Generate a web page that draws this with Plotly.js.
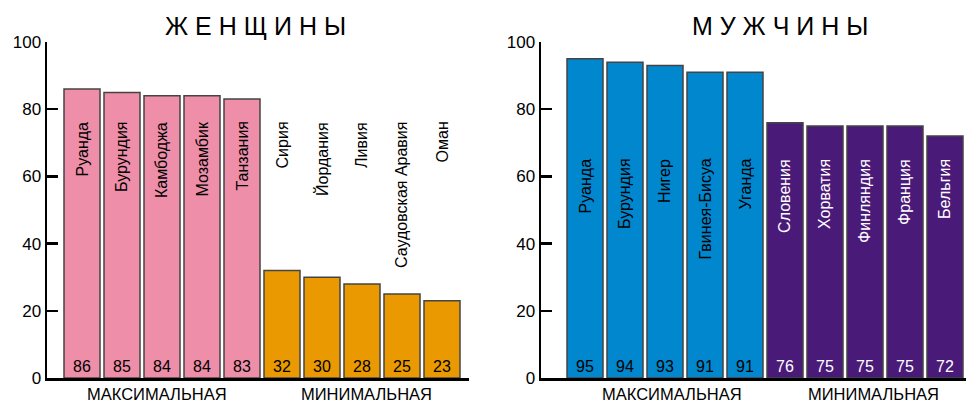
<!DOCTYPE html>
<html>
<head>
<meta charset="utf-8">
<script src="https://cdn.plot.ly/plotly-3.0.1.min.js"></script>
<style>html,body{margin:0;padding:0;background:#fff;}#chart{width:966px;height:404px;}</style>
</head>
<body>
<div id="chart"></div>
<script>
// ---- data ----
const womenCountries = ["Руанда","Бурундия","Камбоджа","Мозамбик","Танзания","Сирия","Йордания","Ливия","Саудовская Аравия","Оман"];
const womenValues = [86,85,84,84,83,32,30,28,25,23];
const womenGroup = ["max","max","max","max","max","min","min","min","min","min"];
const menCountries = ["Руанда","Бурундия","Нигер","Гвинея-Бисуа","Уганда","Словения","Хорватия","Финляндия","Франция","Бельгия"];
const menValues = [95,94,93,91,91,76,75,75,75,72];
const menGroup = ["max","max","max","max","max","min","min","min","min","min"];
const groupLabels = {max: "МАКСИМАЛЬНАЯ", min: "МИНИМАЛЬНАЯ"};
const titles = ["Ж Е Н Щ И Н Ы", "М У Ж Ч И Н Ы"];
const yTicks = [0,20,40,60,80,100];

// ---- styles ----
const FONT = "Liberation Sans, Arial, sans-serif";
const womenColors = {max: "#EE8EA9", min: "#EA9A00"};
const menColors = {max: "#0087CE", min: "#4A1A79"};
const womenTextColors = {max: "#000", min: "#000"};
const menTextColors = {max: "#000", min: "#fff"};

const idx = womenCountries.map((_, i) => i);

function barTrace(values, groups, colors, textColors, xa, ya) {
  return {
    type: "bar",
    x: idx,
    y: values,
    xaxis: xa, yaxis: ya,
    width: 0.9,
    marker: {color: groups.map(g => colors[g]), line: {color: "#444", width: 1.5}},
    text: values.map(String),
    textposition: "inside",
    insidetextanchor: "start",
    textangle: 0,
    constraintext: "none",
    textfont: {family: FONT, size: 16, color: groups.map(g => textColors[g])},
    hoverinfo: "skip",
    showlegend: false
  };
}

const data = [
  barTrace(womenValues, womenGroup, womenColors, womenTextColors, "x", "y"),
  barTrace(menValues, menGroup, menColors, menTextColors, "x2", "y2")
];

const annotations = [];
function nameAnnots(names, groups, textColors, xref, yref, yTop) {
  names.forEach((n, i) => {
    annotations.push({
      x: i, y: yTop, xref: xref, yref: yref,
      text: n, textangle: -90, showarrow: false,
      xanchor: "center", yanchor: "top",
      font: {family: FONT, size: 16, color: textColors[groups[i]]}
    });
  });
}
nameAnnots(womenCountries, womenGroup, womenTextColors, "x", "y", 76.8);
nameAnnots(menCountries, menGroup, menTextColors, "x2", "y2", 65.8);

function groupAnnots(groups, xref, offsets) {
  ["max","min"].forEach((g, k) => {
    const members = idx.filter(i => groups[i] === g);
    const mid = (members[0] + members[members.length - 1]) / 2;
    annotations.push({
      x: mid + offsets[k], y: 10/404, xref: xref, yref: "paper",
      yanchor: "middle", xanchor: "center",
      text: groupLabels[g], showarrow: false,
      font: {family: FONT, size: 16.5, color: "#000"}
    });
  });
}
groupAnnots(womenGroup, "x", [-0.12, 0.1]);
groupAnnots(menGroup, "x2", [0.17, 0.22]);

annotations.push({x: 255/966, y: 1 - 26/404, xref: "paper", yref: "paper", text: titles[0], showarrow: false,
  xanchor: "center", yanchor: "middle", font: {family: FONT, size: 25, color: "#000"}});
annotations.push({x: 780/966, y: 1 - 26/404, xref: "paper", yref: "paper", text: titles[1], showarrow: false,
  xanchor: "center", yanchor: "middle", font: {family: FONT, size: 25, color: "#000"}});

const yDom = [26/404, 362/404];
function yAxis(anchor) {
  return {
    domain: yDom, range: [0, 100], anchor: anchor,
    showline: true, linecolor: "#000", linewidth: 2.5,
    ticks: "inside", ticklen: 11, tickwidth: 2.5, tickcolor: "#000",
    tickvals: yTicks, ticktext: yTicks.map(String),
    tickfont: {family: FONT, size: 17, color: "#000"},
    showgrid: false, zeroline: false, fixedrange: true
  };
}
function xAxis(domain, range, anchor) {
  return {
    domain: domain, range: range, anchor: anchor,
    showline: true, linecolor: "#000", linewidth: 2.5,
    ticks: "", showticklabels: false, showgrid: false, zeroline: false, fixedrange: true
  };
}

const layout = {
  width: 966, height: 404,
  margin: {l: 0, r: 0, t: 0, b: 0},
  paper_bgcolor: "#fff", plot_bgcolor: "#fff",
  bargap: 0.1,
  xaxis: xAxis([47/966, 469/966], [-0.875, 9.675], "y"),
  yaxis: yAxis("x"),
  xaxis2: xAxis([541/966, 1], [-1.1, 9.525], "y2"),
  yaxis2: yAxis("x2"),
  annotations: annotations,
  showlegend: false
};

Plotly.newPlot("chart", data, layout, {staticPlot: true, displayModeBar: false});
</script>
</body>
</html>
